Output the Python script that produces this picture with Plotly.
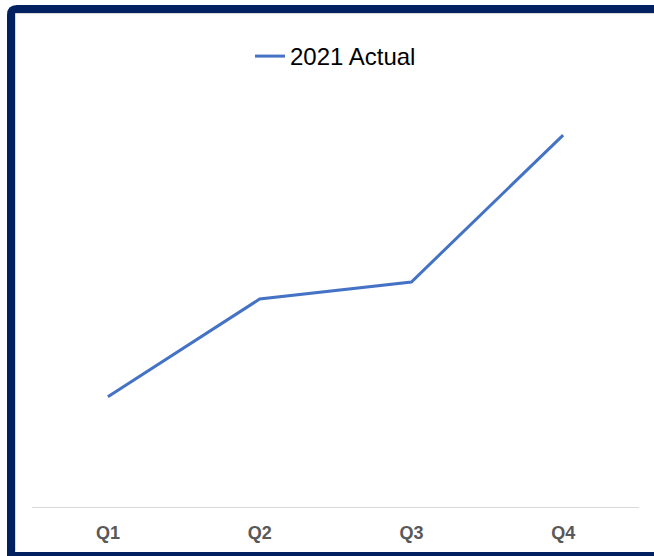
import plotly.graph_objects as go

quarters = ["Q1", "Q2", "Q3", "Q4"]
actual_2021 = [2.58, 4.87, 5.27, 8.71]
series_name = "2021 Actual"

W, H = 654, 556
L, R, T, B = 32, 15, 80, 49
pw, ph = W - L - R, H - T - B


def px(x):
    return (x - L) / pw


def py(y):
    return (H - B - y) / ph


fig = go.Figure()
fig.add_trace(go.Scatter(
    x=quarters, y=actual_2021, mode="lines", name=series_name,
    line=dict(color="#4472C4", width=3), showlegend=True,
))

# outer navy frame with rounded corner (top-left)
r = 6
x0, y0, x1, y1 = 11, 9, 662, 557
path = (f"M {px(x0)},{py(y1)} L {px(x0)},{py(y0 + r)} "
        f"Q {px(x0)},{py(y0)} {px(x0 + r)},{py(y0)} L {px(x1)},{py(y0)}")
fig.add_shape(type="path", xref="paper", yref="paper", path=path,
              line=dict(color="#002060", width=8), layer="above")
fig.add_shape(type="line", xref="paper", yref="paper",
              x0=px(7), x1=px(662), y0=py(555), y1=py(555),
              line=dict(color="#002060", width=6), layer="above")
# thin light inner edge
fig.add_shape(type="path", xref="paper", yref="paper",
              path=f"M {px(15.5)},{py(551.5)} L {px(15.5)},{py(13.5)} L {px(662)},{py(13.5)}",
              line=dict(color="#d9d9d9", width=1), layer="above")

fig.update_layout(
    width=W, height=H,
    margin=dict(l=L, r=R, t=T, b=B),
    paper_bgcolor="white", plot_bgcolor="white",
    font=dict(family="Liberation Sans, Arial, sans-serif"),
    legend=dict(orientation="h", x=0.5, xanchor="center", y=py(56.5), yanchor="middle",
                font=dict(size=24, color="#000000"), bgcolor="rgba(0,0,0,0)"),
    xaxis=dict(showline=True, linecolor="#d9d9d9", linewidth=1, showgrid=False,
               ticks="", tickfont=dict(size=18, color="#595959",
                                        family="Liberation Sans, Arial, sans-serif", weight="bold"),
               ticklabelstandoff=9,
               range=[-0.5, 3.5], zeroline=False, fixedrange=True),
    yaxis=dict(range=[0, 10], showgrid=False, showticklabels=False, zeroline=False,
               showline=False, ticks=""),
    showlegend=True,
)

fig.write_html("out.html")
